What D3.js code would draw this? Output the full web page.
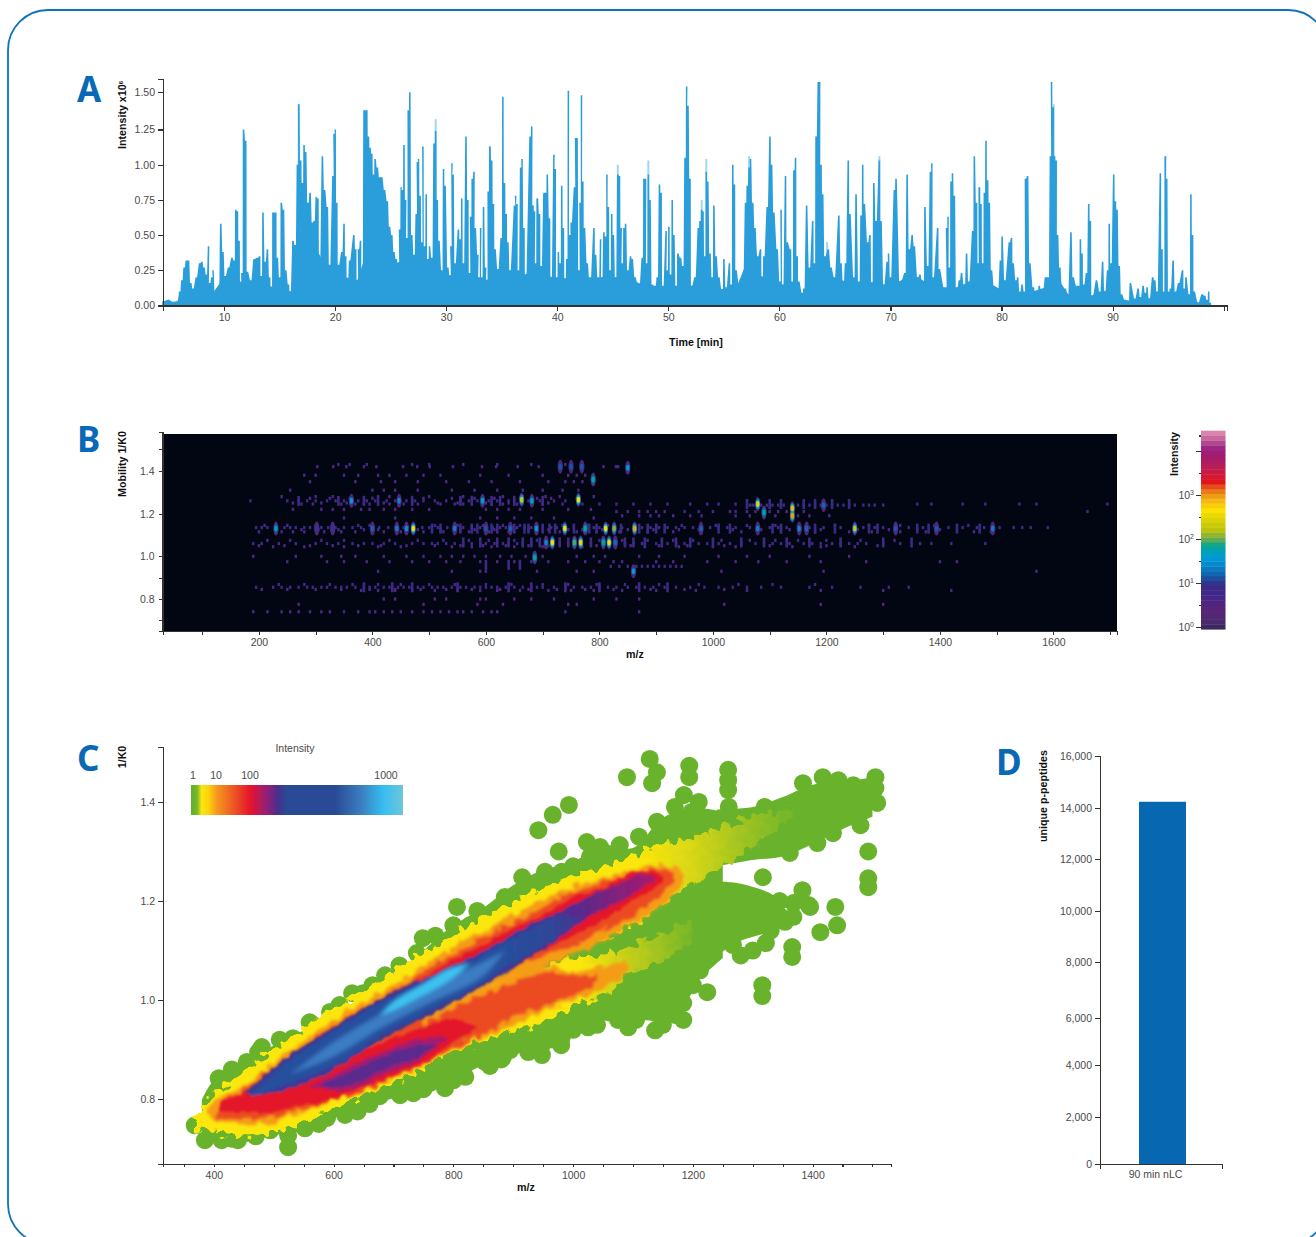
<!DOCTYPE html>
<html>
<head>
<meta charset="utf-8">
<script src="https://cdn.jsdelivr.net/npm/d3@7"></script>
<style>
  html, body { margin: 0; background: #fff; overflow: hidden; }
  text { font-family: "Liberation Sans", sans-serif; }
  .tick text { font-size: 10.5px; fill: #4a4a4a; }
  .axis path, .axis line { stroke: #333; stroke-width: 1.1; shape-rendering: crispEdges; }
  .title { font-size: 10.7px; font-weight: bold; fill: #111; }
  .letter { font-family: "Noto Sans", sans-serif; font-size: 35px; font-weight: bold; fill: #0a69b4; }
</style>
</head>
<body>
<div class="canvas"></div>
<script>
// panel A: total ion chromatogram as [minute, intensity x10^6]
const chromatogram = [
  [4.5,.03],[5,.04],[5.5,.02],[5.8,.03],[6,.1],[6.2,.18],[6.4,.27],[6.6,.32],[6.8,.32],[7,.16],[7.2,.12],[7.5,.2],[7.8,.3],[8,.31],[8.2,.27],[8.4,.22],[8.6,.42],[8.7,.16],[8.9,.2],[9,.25],[9.2,.1],[9.5,.1],[9.7,.58],[9.9,.38],[10.1,.21],[10.4,.27],[10.7,.34],[10.9,.32],[11.05,.68],[11.2,.67],[11.35,.46],[11.5,.1],[11.6,.23],[11.75,1.25],[11.95,1.17],[12.1,.24],[12.4,.18],[12.7,.33],[13,.34],[13.2,.35],[13.35,.21],[13.5,.66],[13.7,.31],[13.9,.4],[14.1,.2],[14.25,.13],[14.4,.66],[14.65,.66],[14.8,.34],[15,.2],[15.15,.73],[15.35,.68],[15.55,.25],[15.8,.15],[15.95,.1],[16.2,.46],[16.4,.43],[16.6,1.0],[16.72,1.42],[16.9,1.03],[17.05,.87],[17.2,1.14],[17.35,1.09],[17.55,.73],[17.75,.8],[17.95,.59],[18.1,.6],[18.3,.77],[18.45,.76],[18.6,.34],[18.85,1.06],[19.05,.82],[19.3,.7],[19.5,.29],[19.8,.92],[19.9,1.22],[20,1.25],[20.15,.73],[20.3,.29],[20.6,.38],[20.8,.58],[20.95,.35],[21.1,.15],[21.3,.32],[21.68,.5],[21.85,.4],[22,.17],[22.1,.4],[22.28,.46],[22.42,.25],[22.6,1.38],[22.85,1.38],[23,1.2],[23.15,1.12],[23.3,1.08],[23.45,.93],[23.6,1.04],[23.8,.98],[24,.91],[24.2,.91],[24.45,.82],[24.7,.74],[24.9,.56],[25.1,.5],[25.3,.38],[25.5,.33],[25.7,.25],[25.8,.54],[25.95,.84],[26.05,.82],[26.2,1.14],[26.35,.75],[26.45,.48],[26.58,1.38],[26.72,1.5],[26.9,.5],[27.1,.36],[27.3,.65],[27.4,1.02],[27.5,1.04],[27.65,.78],[27.8,.45],[27.9,1.13],[28.05,.42],[28.2,.79],[28.35,.33],[28.5,.42],[28.7,.34],[28.9,1.15],[29.05,1.24],[29.2,.75],[29.35,.46],[29.6,.25],[29.76,.97],[29.9,.85],[30.15,.27],[30.35,.2],[30.42,.42],[30.52,1.01],[30.62,.93],[30.8,.3],[31.1,.54],[31.25,.47],[31.4,.76],[31.55,.3],[31.78,1.2],[31.95,.75],[32.1,.23],[32.2,.63],[32.34,.9],[32.5,.95],[32.62,.55],[32.85,.36],[32.95,.2],[33.1,.55],[33.2,.2],[33.36,.7],[33.55,.27],[33.65,.17],[33.78,.81],[33.93,1.13],[34.1,1.03],[34.25,.72],[34.4,.4],[34.65,.26],[34.95,.48],[35.1,1.47],[35.25,.87],[35.4,.65],[35.55,.45],[35.75,.25],
  [36.15,.71],[36.25,.78],[36.37,.72],[36.5,.25],[36.7,.98],[36.82,1.04],[37,.55],[37.15,.18],[37.55,1.2],[37.7,1.27],[37.82,.71],[37.95,.67],[38.05,.3],[38.2,.76],[38.4,.65],[38.55,.28],[38.8,.8],[38.95,.8],[39.1,.93],[39.3,.62],[39.45,.2],[39.7,1.07],[39.82,.97],[39.95,.2],[40.1,.38],[40.25,.3],[40.4,.85],[40.55,.55],[40.7,.17],[40.85,.33],[41,1.51],[41.12,.5],[41.25,.59],[41.55,.84],[41.65,1.19],[41.78,1.19],[41.95,.25],[42.05,.73],[42.18,1.48],[42.3,.88],[42.45,.55],[42.7,.3],[42.95,.15],[43.3,.55],[43.45,.36],[43.7,.13],[43.9,.47],[44,.2],[44.2,.52],[44.35,.49],[44.47,.93],[44.6,.7],[44.75,.25],[44.9,.65],[45.05,.5],[45.25,.2],[45.45,.93],[45.6,.92],[45.75,.55],[45.85,.3],[46,.55],[46.15,.58],[46.35,.25],[46.6,.35],[46.75,.33],[47,.2],[47.35,.12],[47.65,.34],[47.8,.9],[47.95,.9],[48.05,.3],[48.2,.93],[48.35,.75],[48.55,.15],[48.8,.13],[49,.2],[49.2,.86],[49.35,.8],[49.5,.12],[49.8,.53],[49.9,.25],[50.05,.56],[50.2,.22],[50.35,.75],[50.5,.5],[50.7,.13],[50.85,.37],[51.1,.34],[51.3,.28],[51.5,1.05],[51.65,1.54],[51.77,1.41],[51.95,.9],[52.1,.14],[52.4,.2],[52.7,.55],[52.85,.6],[53,.68],[53.12,.67],[53.28,.35],[53.42,.95],[53.55,.88],[53.75,.37],[53.95,.2],[54.1,.71],[54.3,.35],[54.55,.2],[54.85,.1],[55,.33],[55.2,.13],[55.5,.3],[55.65,.15],[55.8,1.0],[55.95,.86],[56.1,.25],[56.45,.09],[56.7,.15],[56.95,.73],[57.1,.85],[57.27,.98],[57.4,1.04],[57.6,.73],[57.8,.55],[58.05,.35],[58.3,.4],[58.45,.17],[58.6,.35],[58.9,.7],[59.15,1.2],[59.3,1.0],[59.5,.66],[59.8,.4],[60.05,.17],[60.15,.68],[60.3,.15],[60.55,.92],[60.7,.45],[61,.4],[61.15,.17],[61.3,.96],[61.45,1.05],[61.6,.35],[61.75,.17],[62.05,.09],[62.2,.12],[62.45,.71],[62.7,.27],[63,.6],[63.15,.3],[63.3,1.2],[63.5,1.57],[63.62,1.57],[63.75,1.0],[63.9,.79],[64.1,.35],[64.4,.4],[64.65,.27],[64.95,.2],[65.35,.64],[65.55,.3],[65.75,.17],[65.95,.3],[66.2,1.03],[66.35,.65],[66.7,.2],[66.9,.79],[67.15,.12],[67.35,.64],[67.5,1.0],[67.65,.72],[67.95,.45],[68.15,.5],[68.32,.15],[68.5,.87],[68.7,.6],[69,1.03],[69.15,.6],[69.4,.15],[69.7,.31],[69.82,.37],[70,.2],[70.35,.82],[70.5,.9],[70.85,.15],[71.3,.23],[71.5,.93],[71.7,.4],[71.95,.5],[72.15,.42],[72.45,.2],[72.65,.22],[72.95,.12],[73.1,.7],[73.35,.28],[73.6,.95],[73.72,1.01],[73.85,.2],[74.25,.55],[74.4,.26],[75,.05],[75.05,.55],[75.18,.63],[75.3,.27],[75.45,.88],[75.58,.94],[75.75,.78],[75.95,.1],[76.2,.18],[76.4,.23],[76.65,.12],[76.85,.37],[77.05,.17],[77.4,.53],[77.55,1.06],[77.75,.73],[77.9,.3],[78,.84],[78.15,.72],[78.3,.3],[78.45,.8],[78.6,1.17],[78.75,.89],[78.9,.73],[79.1,.25],[79.35,.12],[79.65,.1],[79.9,.32],[80.05,.49],[80.3,.18],[80.7,.45],[80.9,.48],[81.05,.3],[81.3,.18],[81.45,.2],[81.65,.1],[81.85,.15],[82.05,.1],[82.15,.9],[82.35,.92],[82.55,.3],[82.85,.13],[83.15,.05],[83.4,.14],[83.65,.05],[83.95,.2],[84.2,.2],[84.4,1.06],[84.5,1.57],[84.65,1.4],[84.78,1.06],[84.92,1.03],[85.05,.5],[85.25,.27],[85.5,.08],[85.75,.12],[85.95,.07],[86.25,.52],[86.45,.2],[86.75,.14],[86.95,.14],[87.1,.47],[87.25,.37],[87.4,.15],[87.65,.23],[87.85,.72],[88,.6],[88.15,.05],[88.55,.18],[88.85,.1],[89.1,.31],[89.3,.1],[89.55,.25],[89.7,.58],[89.85,.3],[90.1,.93],[90.25,.74],[90.4,.68],[90.6,.28],[90.8,.08],[91.1,.04],[91.4,.02],[91.6,.16],[92,.05],[92.3,.12],[92.5,.06],[92.75,.14],[92.95,.09],[93.1,.13],[93.3,.05],[93.6,.2],[93.8,.18],[94,.1],[94.3,.94],[94.45,.4],[94.6,.1],[94.75,1.06],[94.87,.9],[95.05,.1],[95.2,.12],[95.45,.32],[95.65,.1],[95.95,.16],[96.3,.25],[96.45,.12],[96.6,.2],[96.9,.08],[97.05,.79],[97.2,.5],[97.35,.1],[97.7,.02],[98.05,.08],[98.3,.07],[98.5,.04],[98.65,.1],[98.8,.02]
];
// continuous floor under the spikes
const chromatogramFloor = [[4.5,.02],[5.8,.03],[6,.08],[7,.11],[8,.14],[9,.09],[10,.2],[12,.16],[14,.14],[16,.1],[16.4,.3],[17,.48],[18,.45],[19,.3],[20,.22],[22,.18],[22.5,.3],[25,.3],[27,.32],[30,.22],[33,.18],[36,.2],[38,.24],[40,.19],[42,.2],[44,.2],[46,.2],[48,.14],[50,.14],[52,.14],[54,.13],[56,.1],[57,.3],[58,.22],[60,.16],[62,.08],[64,.22],[66,.17],[68,.17],[70,.14],[71.5,.2],[72,.22],[74,.13],[76,.13],[78,.2],[80,.11],[82,.08],[84,.13],[85,.2],[86,.08],[88,.07],[90,.12],[91,.04],[92,.03],[94,.06],[96,.06],[97,.05],[98,.01],[98.85,0]];
// pale tips standing above the main trace
const paleTips = [[16.72,1.42],[29.05,1.32],[33.93,1.13],[45.45,1.0],[48.2,1.03],[53.42,1.04],[57.27,1.06],[69,1.06],[63.35,1.2],[78,.84],[84.7,1.42],[94.75,1.06],[64.3,.45],[53,.75],[38.2,.76]];
const timeTicks = d3.range(10, 101, 10);
const intensityTicks = [0, .25, .5, .75, 1, 1.25, 1.5];

// panel B: mobility map, faint specks per row and the bright features
const speckRowK0 = [1.43,1.42,1.38,1.35,1.31,1.28,1.272,1.26,1.25,1.245,1.24,1.22,1.21,1.19,1.18,1.145,1.135,1.125,1.115,1.075,1.06,1.05,1.045,1.0,.975,.953,.93,.868,.855,.845,.84,.80,.775,.74];
const speckRowI = [5,4,4,4,4,4,4,6,4,5,8,4,4,4,4,5,7,5,4,5,7,4,4,4,4,7,4,5,6,4,4,3,3,4];
const speckRowMz = [
  [340,360,390,470,500,560,620,680,740],
  [303,331,354,385,407,454,479,501,542,593,618,656,693,731,750,769,807,829,833],
  [280,300,350,375,410,430,460,490,520,590,640,700,745,760,775],
  [290,370,415,440,480,530,570,610,660,710,740,755,770],
  [255,400,420,440,480,540,580,620,665,700,735,763],
  [240,300,330,410,430,500,560,630,665,705,730,790],
  [290,325,360,400,445,490,540,580,615,660,690,715,760],
  [185,250,270,285,300,320,335,350,375,390,405,425,440,460,475,490,510,530,555,570,585,605,620,640,650,675,695,720,740],
  [260,310,355,385,420,470,515,550,600,640,680,710],
  [275,295,345,370,395,430,455,480,520,545,560,610,630,655,700,735,770,800,830,860,890,920,960,990,1010,1040,1360,1385,1440,1480,1540,1570,1695],
  [1065,1070,1075,1085,1095,1105,1115,1125,1150,1160,1170,1180,1190,1200,1210,1220,1230,1240,1250,1265,1275,1285,1300],
  [260,310,330,350,380,395,420,440,470,500,600,620,640,660,700,745,785],
  [830,850,870,885,900,915,950,975,1000,1030,1040,1060,1075,1100,1115,1130,1160,1660],
  [840,870,890,905,930,960,980,1040,1065,1110,1150,1170,1205],
  [350,440,590,620,650,680,720,790],
  [210,250,300,330,375,395,470,510,550,595,630,660,690,735,780,815,860,900,945,1005,1060,1110,1150,1215,1275,1330,1390,1450],
  [195,205,215,245,255,265,280,290,310,322,335,350,365,380,412,428,455,488,500,515,532,560,575,590,600,612,625,635,655,668,680,700,715,725,755,790,800,825,840,875,890,905,920,935,950,965,995,1010,1025,1040,1065,1100,1115,1130,1170,1195,1225,1265,1285,1300,1345,1370,1415,1440,1465,1478,1505,1530,1545,1560,1590],
  [230,275,305,340,385,410,445,480,520,555,580,615,650,675,710,745,770,805,850,895,940,975,1035,1085,1135,1190,1255,1310,1360,1400,1495],
  [200,240,260,280,315,345,370,420,450,490,525,570,605,640,690,730,760,795,835,885,930,980,1050,1120,1180,1240,1280,1330,1375,1460,1490],
  [215,255,310,350,430,480,525,570,605,650,690,720,765,800,840,885,930,965,1015,1065,1110,1150,1200,1260,1320],
  [190,205,235,265,300,320,340,365,385,400,420,440,470,490,505,515,530,545,560,575,590,600,615,630,640,655,665,680,695,730,745,785,830,845,860,875,900,920,935,950,975,990,1010,1030,1050,1075,1090,1105,1120,1135,1160,1175,1190,1210,1225,1240,1255,1270,1300,1330,1365,1385,1420,1480],
  [200,245,290,330,375,415,460,510,555,595,635,675,710,755,795,855,905,955,1020,1100,1200,1290],
  [225,280,350,410,450,540,575,610,650,700,770,880,940,1000,1040,1140,1190,1250],
  [190,265,310,345,370,420,460,490,520,540,560,580,600,625,645,670,700,760,790,810,870,905,950,1010,1060,1100,1170,1240],
  [250,320,350,390,430,470,500,530,555,590,620,650,680,710,745,775,800,825,840,900,930,990,1040,1080,1130,1190,1270,1400,1430],
  [820,835,850,865,875,885,895,905,915,925,935,945],
  [410,540,590,600,690,760,790,1015,1195,1570],
  [235,280,325,365,410,450,500,545,600,645,700,745,795,845,905,975,1045,1105,1180],
  [195,225,240,255,270,285,295,310,320,335,345,355,370,385,395,405,420,430,445,455,465,480,490,505,515,525,540,555,565,580,590,600,610,620,635,650,665,680,690,700,720,740,755,770,785,800,815,830,850,865,880,895,915,935,960,985,1010,1035,1060,1085,1120,1170,1210,1260,1310,1345],
  [205,250,300,345,395,440,485,530,575,625,675,725,775,825,890,950,1020],
  [380,410,440,470,510,550,590,620,660,710,750,790,840,900,970,1060,1190,1300,1420],
  [420,440,510,530,590,600,650,680,720,790,830,870],
  [270,490,585,630,745,760,1020,1190,1300],
  [190,215,240,255,270,290,310,325,350,375,395,405,420,435,450,470,490,505,520,535,550,560,575,595,610,620,740,870]
];
// taller dim streaks in the crowded bands
const streakRowK0 = [1.26,1.245,1.13,1.065,.855,.96];
const streakRowI = [8,9,9,8,6,6];
const streakRowMz = [
  [270,340,385,410,470,555,575,610,625,650,700],
  [1060,1100,1120,1160,1180,1210,1240],
  [505,520,555,575,585,610,620,650,668,675,700,712,722,755,782,795,838,870,885,900,915,1010,1030,1105,1120,1165,1180,1215,1275,1290,1360,1380,1430,1470],
  [560,590,620,640,665,680,695,730,745,785,845,860,880,910,935,960,1000,1050,1090,1130,1170,1225,1300,1350],
  [385,435,470,550,640,680,740,800,870,920],
  [600,640,660]
];
const spotMz = [850,731,750,769,789,363,447,594,663,681,763,1079,1090,1140,1140,1195,230,302,330,400,443,460,472,545,600,643,689,739,775,811,826,862,979,1079,1152,1165,1250,1322,1394,1493,706,717,756,767,807,817,828,686,860];
const spotK0 = [1.415,1.42,1.42,1.42,1.36,1.26,1.26,1.26,1.265,1.26,1.265,1.245,1.205,1.225,1.19,1.24,1.13,1.13,1.13,1.13,1.13,1.13,1.13,1.13,1.13,1.13,1.13,1.13,1.13,1.13,1.13,1.13,1.13,1.13,1.13,1.13,1.13,1.13,1.13,1.13,1.065,1.065,1.065,1.065,1.065,1.065,1.065,.995,.93];
const spotI = [40,14,14,14,70,40,25,50,200,50,500,300,70,800,1000,16,50,10,10,16,22,30,400,22,14,16,40,400,70,500,120,900,16,22,25,16,200,14,14,22,25,500,90,600,70,500,18,70,40];
const bMzTicks = d3.range(100, 1701, 100);
const bK0Labels = [.8, 1.0, 1.2, 1.4];
const bK0Minor = [.7, .9, 1.5];
// colour bar, log10 intensity to colour from the top of the bar down
const barLog = [4.43,4.3,4.2,4.05,3.85,3.6,3.3,3.15,3.0,2.85,2.65,2.4,2.2,2.0,1.85,1.7,1.55,1.35,1.15,.95,.7,.4,.15,0];
const barColors = ['#dc8ab0','#c86a9e','#b04c90','#9a1f80','#a51c6a','#c01c50','#e2141c','#e8641a','#f0961a','#f5bd10','#fbe100','#d7cf08','#b9c20e','#6aab4c','#00a596','#009fc0','#0098d8','#0a7fc4','#1658a6','#3a2a84','#43278a','#5a2478','#4f2a6e','#3a2a5e'];
const barDecades = [0, 1, 2, 3, 4];
const barHalves = [.5, 1.5, 2.5, 3.5, 4.35];

// panel C: density contours as [m/z, upper 1/K0, lower 1/K0]
const greenBody = [[380,.798,.713],[400,.838,.717],[450,.869,.713],[500,.909,.727],[550,.939,.737],[600,.976,.762],[650,1.004,.782],[700,1.05,.802],[750,1.10,.808],[800,1.151,.838],[850,1.186,.869],[900,1.232,.889],[950,1.263,.909],[1000,1.279,.939],[1050,1.313,.96],[1100,1.307,.96],[1150,1.368,.964],[1200,1.388,1.03],[1250,1.38,1.085]];
const greenTail = [[1240,1.385,1.27],[1300,1.39,1.283],[1350,1.41,1.29],[1400,1.435,1.315],[1450,1.44,1.345],[1500,1.45,1.37]];
const greenMass = [[1240,1.24,1.09],[1280,1.235,1.12],[1330,1.215,1.14],[1345,1.2,1.16]];
const yellowUpper = [[370,.765,.74],[400,.812,.74],[450,.855,.74],[500,.899,.75],[550,.943,.78],[600,.984,.82],[650,1.02,.86],[700,1.057,.90],[750,1.097,.94],[800,1.131,.99],[850,1.166,1.03],[900,1.198,1.065],[950,1.226,1.08],[1000,1.252,1.1],[1050,1.269,1.125],[1100,1.293,1.15],[1150,1.313,1.195],[1200,1.33,1.235],[1250,1.35,1.27],[1300,1.37,1.31],[1370,1.39,1.37]];
const yellowLower = [[400,.80,.731],[450,.80,.727],[500,.82,.733],[550,.85,.754],[600,.88,.782],[650,.92,.808],[700,.96,.834],[750,1.0,.863],[800,1.03,.895],[850,1.05,.919],[900,1.065,.939],[950,1.07,.956],[1000,1.085,.99],[1050,1.09,1.01],[1100,1.11,1.055],[1150,1.135,1.08],[1200,1.16,1.12]];
const orangeUpper = [[390,.775,.76],[400,.794,.758],[450,.828,.747],[500,.873,.754],[550,.919,.774],[600,.96,.798],[650,.996,.826],[700,1.032,.879],[750,1.07,.939],[800,1.107,.98],[850,1.141,1.02],[900,1.172,1.05],[950,1.202,1.07],[1000,1.23,1.09],[1050,1.246,1.121],[1100,1.263,1.152],[1150,1.273,1.192],[1180,1.263,1.232]];
const orangeLower = [[650,.90,.826],[700,.919,.842],[750,.955,.869],[800,.994,.899],[850,1.02,.925],[900,1.05,.949],[950,1.07,.976],[1000,1.057,1.0],[1050,1.07,1.024],[1090,1.08,1.05]];
const deepOrangeUpper = [[405,.79,.765],[450,.82,.76],[500,.864,.764],[550,.907,.78],[600,.947,.80],[650,.984,.82],[700,1.019,.86],[750,1.058,.96],[800,1.094,1.0],[850,1.126,1.035],[900,1.158,1.066],[950,1.187,1.086],[1000,1.219,1.11],[1050,1.236,1.14],[1100,1.254,1.17],[1150,1.266,1.215],[1170,1.25,1.24]];
const deepOrangeLower = [[550,.86,.78],[600,.89,.80],[650,.91,.815],[700,.935,.845],[750,.955,.87],[800,.985,.903],[850,1.01,.93],[900,1.035,.965],[950,1.055,.985],[1000,1.05,1.01],[1040,1.05,1.03]];
const redUpper = [[410,.795,.775],[450,.812,.774],[500,.855,.774],[550,.895,.80],[600,.935,.879],[650,.972,.909],[700,1.006,.945],[750,1.046,.98],[800,1.081,1.016],[850,1.111,1.05],[900,1.145,1.081],[950,1.172,1.101],[1000,1.208,1.131],[1050,1.226,1.162],[1100,1.256,1.202],[1130,1.259,1.222],[1150,1.25,1.24]];
const redLower = [[450,.81,.78],[500,.83,.78],[550,.848,.788],[600,.875,.802],[650,.899,.824],[700,.923,.848],[750,.945,.875],[800,.962,.915],[840,.945,.945]];
const magentaUpper = [[452,.81,.81],[515,.878,.817],[599,.943,.86],[682,1.005,.922],[766,1.051,.973],[849,1.098,1.028],[933,1.155,1.09],[978,1.18,1.125],[1030,1.212,1.17],[1080,1.238,1.2],[1120,1.255,1.23],[1140,1.245,1.245]];
const magentaLower = [[560,.825,.825],[627,.865,.818],[682,.895,.849],[739,.92,.875],[790,.925,.925]];
const purpleLower = [[577,.825,.825],[627,.855,.828],[682,.885,.859],[739,.909,.885],[773,.91,.91]];
const blueRidge = [[460,.805,.805],[515,.868,.828],[599,.935,.868],[682,.996,.93],[766,1.042,.982],[849,1.09,1.036],[878,1.111,1.061],[933,1.145,1.097],[978,1.172,1.131],[1015,1.165,1.165]];
const lightBlueRidge = [[527,.85,.85],[599,.915,.885],[682,.975,.945],[766,1.032,.997],[849,1.077,1.047],[886,1.1,1.1]];
const cyanRidge = [[677,.97,.97],[702,1.0,.98],[744,1.03,1.006],[794,1.065,1.04],[828,1.075,1.075]];
// single green dots around the cloud
const greenDots = [
  [1090,1.45],[1128,1.487],[1140,1.46],[1132,1.438],[1194,1.473],[1194,1.45],[1259,1.465],[1259,1.444],[1259,1.424],[993,1.394],[966,1.374],[942,1.343],[976,1.3],[1185,1.414],[1198,1.38],[1023,1.319],[1045,1.309],[1078,1.313],[1028,1.289],[915,1.248],[953,1.259],[981,1.259],[886,1.208],[1384,1.438],[1417,1.45],[1443,1.444],[1468,1.434],[1505,1.45],[1505,1.428],[1508,1.398],[1480,1.353],[1493,1.3],[1493,1.246],[1493,1.228],[1413,1.137],[1438,1.188],[1441,1.151],[1383,1.222],[1393,1.192],[1368,1.196],[1354,1.158],[1366,1.107],[1366,1.087],[1322,1.115],[1224,1.016],[1316,1.03],[1316,1.008],[1267,1.111],[1242,1.115],[1317,1.196],[1317,1.248],[1362,1.297],[1408,1.317],[1434,1.337],[1137,.939],[1137,.974],[1184,.96],[1184,.994],[1187,1.04],[1092,.945],[1075,.96],[1025,.945],[980,.909],[948,.889],[920,.909],[891,.909],[883,.885],[1212,1.06],[1234,1.10],
  [408,.842],[455,.875],[474,.895],[514,.915],[532,.923],[564,.951],[594,.976],[631,1.014],[649,1.014],[686,1.05],[739,1.095],[749,1.125],[800,1.151],[806,1.188],[828,1.151],[861,1.172],
  [368,.747],[385,.717],[413,.717],[440,.717],[494,.737],[524,.703],[524,.727],[552,.741],[589,.762],[619,.768],[677,.806],[711,.808],[733,.812],[800,.838],[786,.822],[861,.867],[853,.875],[946,.903],[981,.925],[895,.899],[1023,.964],
  [1345,1.2],[1345,1.17],[1330,1.14],[1300,1.1],[1280,1.09],[1368,1.168],[1396,1.188],[1137,.99],[1137,1.02],[1184,1.02],[1150,.95],[1170,.97],[1160,1.0],[1200,1.03],[1105,.96],[1060,.975],[1000,.94],[960,.92],[1050,1.29],[1000,1.27],[1110,1.33],[1140,1.36],[1170,1.39],[1210,1.40],[1260,1.39],[1320,1.39],
  [430,.86],[480,.905],[510,.92],[560,.955],[610,.99],[665,1.03],[710,1.07],[770,1.13],[840,1.18],[430,.72],[470,.725],[575,.75],[640,.775],[660,.79],[750,.82],[820,.845],[880,.88],[925,.895],[970,.92],[1040,.95]
];
const cMzTicks = d3.range(350, 1501, 50);
const cK0Ticks = [.8, 1.0, 1.2, 1.4];
const legendLabels = [1, 10, 100, 1000];
const legendOffsets = [0, .03, .05, .085, .12, .28, .35, .41, .45, .68, .8, .905, 1];
const legendColors = ['#5fae2c','#7ab82a','#fbe80a','#fdcf0c','#f49a1c','#e6142c','#9b1f74','#4a2e8c','#2a4a96','#2a4a96','#3b7cc0','#35bdf0','#70c5dc'];

// panel D
const dCategories = ['90 min nLC'];
const dValues = [14240];
const dTicks = [0, 2000, 4000, 6000, 8000, 10000, 12000, 14000, 16000];

const svg = d3.select('.canvas').append('svg').attr('width', 1316).attr('height', 1237).style('display', 'block');
const defs = svg.append('defs');

// rounded frame, runs off the right and the bottom
svg.append('rect').attr('x', 8).attr('y', 10).attr('width', 1320).attr('height', 1234).attr('rx', 40)
  .attr('fill', 'none').attr('stroke', '#0e72b8').attr('stroke-width', 1.8);

[['A', 77, 102], ['B', 77, 452], ['C', 77, 771], ['D', 996, 775]].forEach(d => {
  svg.append('text').attr('class', 'letter').attr('x', d[1]).attr('y', d[2]).text(d[0]);
});

function vLabel(txt, x, y) {
  svg.append('text').attr('class', 'title').attr('transform', `translate(${x},${y}) rotate(-90)`)
    .attr('text-anchor', 'middle').text(txt);
}
function hLabel(txt, x, y) {
  svg.append('text').attr('class', 'title').attr('x', x).attr('y', y).attr('text-anchor', 'middle').text(txt);
}

// ---- panel A
const xA = d3.scaleLinear().domain([4.5, 100.3]).range([163, 1227]);
const yA = d3.scaleLinear().domain([0, 1.25, 1.5, 1.59]).range([305.5, 129.5, 92.3, 79]);
const stepPoints = chromatogram.flatMap(d => [[d[0] - .07, d[1]], [d[0] + .07, d[1]]]);

svg.append('g').selectAll('rect').data(paleTips).join('rect')
  .attr('x', d => xA(d[0]) - 1).attr('width', 2)
  .attr('y', d => yA(d[1])).attr('height', d => yA(0) - yA(d[1]))
  .attr('fill', '#9fd6f3');
svg.append('path').datum(chromatogramFloor)
  .attr('d', d3.area().x(d => xA(d[0])).y0(yA(0)).y1(d => yA(d[1])))
  .attr('fill', '#2a9ddb');
svg.append('path').datum(stepPoints)
  .attr('d', d3.area().x(d => xA(d[0])).y0(yA(0)).y1(d => yA(d[1])))
  .attr('fill', '#2a9ddb');

svg.append('g').attr('class', 'axis').attr('transform', 'translate(0,305.5)')
  .call(d3.axisBottom(xA).tickValues(timeTicks).tickSizeOuter(0).tickSize(5).tickPadding(3)
    .tickFormat(d => d === 100 ? '' : d));
svg.append('g').attr('class', 'axis').attr('transform', 'translate(163,0)')
  .call(d3.axisLeft(yA).tickValues(intensityTicks).tickSizeOuter(0).tickSize(5).tickPadding(3).tickFormat(d3.format('.2f')));
const aTitle = svg.append('text').attr('class', 'title').attr('transform', 'translate(126,115) rotate(-90)').attr('text-anchor', 'middle').text('Intensity x10');
aTitle.append('tspan').attr('font-size', 6).attr('dy', -3).text('6');
hLabel('Time [min]', 696, 346);

// ---- panel B
const xB = d3.scaleLinear().domain([31, 1712]).range([163, 1117]);
const yB = d3.scaleLinear().domain([.65, 1.4, 1.58]).range([631, 471, 432]);
const heat = d3.scaleLinear().domain(barLog.slice().reverse()).range(barColors.slice().reverse()).clamp(true);
const heatI = i => heat(Math.log10(i));

defs.append('filter').attr('id', 'soft').append('feGaussianBlur').attr('stdDeviation', .6);
svg.append('rect').attr('x', xB(31)).attr('y', 434).attr('width', xB(1712) - xB(31)).attr('height', 197).attr('fill', '#020612');

const specks = speckRowMz.flatMap((row, i) => row.map(mz => ({ mz, k0: speckRowK0[i], i: speckRowI[i] })));
svg.append('g').attr('filter', 'url(#soft)').selectAll('rect').data(specks).join('rect')
  .attr('x', d => xB(d.mz) - 1.2).attr('y', d => yB(d.k0) - 1.6)
  .attr('width', 2.4).attr('height', 3.2)
  .attr('fill', d => heatI(d.i));

const streaks = streakRowMz.flatMap((row, i) => row.map(mz => ({ mz, k0: streakRowK0[i], i: streakRowI[i] })));
svg.append('g').attr('filter', 'url(#soft)').selectAll('rect').data(streaks).join('rect')
  .attr('x', d => xB(d.mz) - 1.3).attr('y', d => yB(d.k0) - 5)
  .attr('width', 2.6).attr('height', 10)
  .attr('fill', d => heatI(d.i));

// each bright feature is a small stack, dim and tall outside, hot and short inside
const spots = spotMz.map((mz, i) => ({ mz, k0: spotK0[i], i: spotI[i] }));
const spotG = svg.append('g').attr('filter', 'url(#soft)');
[[7, 2.6, .25], [5, 2.2, .62], [3, 1.7, 1]].forEach(s => {
  spotG.append('g').selectAll('ellipse').data(spots).join('ellipse')
    .attr('cx', d => xB(d.mz)).attr('cy', d => yB(d.k0))
    .attr('rx', s[1]).attr('ry', s[0])
    .attr('fill', d => heatI(Math.pow(d.i, s[2])));
});

svg.append('g').attr('class', 'axis').attr('transform', 'translate(0,631)')
  .call(d3.axisBottom(xB).tickValues(bMzTicks).tickSizeOuter(0).tickSize(4).tickPadding(4)
    .tickFormat(d => d % 200 === 0 ? d : ''));
svg.append('g').attr('class', 'axis').attr('transform', 'translate(162.5,0)')
  .call(d3.axisLeft(yB).tickValues(bK0Labels.concat(bK0Minor)).tickSizeOuter(0).tickSize(4).tickPadding(4)
    .tickFormat(d => bK0Labels.includes(d) ? d3.format('.1f')(d) : ''));
vLabel('Mobility 1/K0', 126, 464);
hLabel('m/z', 635, 658);

// colour bar
const yBar = d3.scaleLinear().domain([0, 4.43]).range([627, 432]);
const barSteps = d3.range(-.05, 4.43, .11);
svg.append('g').selectAll('rect').data(barSteps).join('rect')
  .attr('x', 1201).attr('width', 24.5)
  .attr('y', d => yBar(d + .11)).attr('height', d => yBar(d) - yBar(d + .11) + .4)
  .attr('fill', d => heat(d + .055));
svg.append('g').attr('class', 'axis').attr('transform', 'translate(1201,0)')
  .call(d3.axisLeft(yBar).tickValues(barHalves).tickSize(2.5).tickFormat(''))
  .select('.domain').remove();
const barAxis = svg.append('g').attr('class', 'axis').attr('transform', 'translate(1201,0)')
  .call(d3.axisLeft(yBar).tickValues(barDecades).tickSize(5).tickPadding(2).tickFormat(''));
barAxis.select('.domain').remove();
barAxis.selectAll('.tick').filter(d => d < 4).select('text').each(function (d) {
  const t = d3.select(this);
  t.append('tspan').text('10');
  t.append('tspan').attr('font-size', 7).attr('dy', -3.5).text(d);
});
vLabel('Intensity', 1178, 454);

// ---- panel C
const xC = d3.scaleLinear().domain([315, 1531]).range([163, 891]);
const yC = d3.scaleLinear().domain([.669, 1.511]).range([1164, 747]);
const band = d3.area().x(d => xC(d[0])).y0(d => yC(d[2])).y1(d => yC(d[1])).curve(d3.curveCatmullRom);

// jagged flame edges of the contours, sharper outside, softer towards the core
function flameFilter(id, freq, scale, blur) {
  const f = defs.append('filter').attr('id', id)
    .attr('filterUnits', 'userSpaceOnUse').attr('x', 150).attr('y', 740).attr('width', 760).attr('height', 430);
  f.append('feTurbulence').attr('type', 'fractalNoise').attr('baseFrequency', freq).attr('numOctaves', 1).attr('seed', 4).attr('result', 'n');
  f.append('feDisplacementMap').attr('in', 'SourceGraphic').attr('in2', 'n').attr('scale', scale)
    .attr('xChannelSelector', 'R').attr('yChannelSelector', 'G').attr('result', 'd');
  f.append('feGaussianBlur').attr('in', 'd').attr('stdDeviation', blur);
}
flameFilter('flameStrong', .14, 20, .5);
flameFilter('flameMid', .14, 14, 1.5);
flameFilter('flameSoft', .14, 6, 1.3);
const smooth = defs.append('filter').attr('id', 'smooth')
  .attr('filterUnits', 'userSpaceOnUse').attr('x', 150).attr('y', 740).attr('width', 760).attr('height', 430);
smooth.append('feGaussianBlur').attr('stdDeviation', 2.2);

function fade(id, x1, x2, stops) {
  const g = defs.append('linearGradient').attr('id', id).attr('gradientUnits', 'userSpaceOnUse')
    .attr('x1', x1).attr('x2', x2).attr('y1', 0).attr('y2', 0);
  stops.forEach(s => g.append('stop').attr('offset', s[0]).attr('stop-color', s[1]));
}
const cGreen = '#69b32c';
fade('ridgeFade', 520, 650, [[0, '#3a3a94'], [.45, '#5a2a8c'], [1, '#a31a70']]);
fade('blueFade', 500, 585, [[0, '#26509e'], [.6, '#2f4698'], [1, '#4a3390']]);
fade('yellowUp', 640, 800, [[0, '#fbe60a'], [.3, '#dcd816'], [.65, '#9ec322'], [1, cGreen]]);
fade('yellowLow', 580, 700, [[0, '#fbe60a'], [.4, '#c6cf18'], [1, cGreen]]);

const gC = svg.append('g');
gC.append('g').selectAll('circle').data(greenDots).join('circle')
  .attr('cx', d => xC(d[0])).attr('cy', d => yC(d[1])).attr('r', 9).attr('fill', cGreen);
gC.append('path').datum(greenBody).attr('d', band).attr('fill', cGreen);
gC.append('path').datum(greenTail).attr('d', band).attr('fill', cGreen);
gC.append('path').datum(greenMass).attr('d', band).attr('fill', cGreen);

const outer = gC.append('g').attr('filter', 'url(#flameStrong)');
outer.append('path').datum(yellowUpper).attr('d', band).attr('fill', 'url(#yellowUp)');
outer.append('path').datum(yellowLower).attr('d', band).attr('fill', 'url(#yellowLow)');
const hot = gC.append('g').attr('filter', 'url(#flameMid)');
[[orangeUpper, '#f59c14'], [orangeLower, '#f59c14'], [deepOrangeUpper, '#ec4c20'], [deepOrangeLower, '#ec4c20']].forEach(d => {
  hot.append('path').datum(d[0]).attr('d', band).attr('fill', d[1]);
});
const cold = gC.append('g').attr('filter', 'url(#flameSoft)');
[[redUpper, '#e3162a'], [redLower, '#e3162a'], [magentaUpper, 'url(#ridgeFade)'], [magentaLower, '#a31a70'], [purpleLower, '#5a2a8e'], [blueRidge, 'url(#blueFade)']].forEach(d => {
  cold.append('path').datum(d[0]).attr('d', band).attr('fill', d[1]);
});
const core = gC.append('g').attr('filter', 'url(#smooth)');
core.append('path').datum(lightBlueRidge).attr('d', band).attr('fill', '#3a7cc2');
core.append('path').datum(cyanRidge).attr('d', band).attr('fill', '#3cc2ef');

svg.append('g').attr('class', 'axis').attr('transform', 'translate(0,1164)')
  .call(d3.axisBottom(xC).tickValues(cMzTicks).tickSizeOuter(0).tickSize(3).tickPadding(5)
    .tickFormat(d => d % 200 === 0 ? d : ''));
svg.append('g').attr('class', 'axis').attr('transform', 'translate(163,0)')
  .call(d3.axisLeft(yC).tickValues(cK0Ticks).tickSizeOuter(0).tickSize(5).tickPadding(3).tickFormat(d3.format('.1f')));
vLabel('1/K0', 126, 757);
hLabel('m/z', 526, 1191);

// legend of panel C
const legendGrad = defs.append('linearGradient').attr('id', 'legendGrad');
legendOffsets.forEach((o, i) => legendGrad.append('stop').attr('offset', o).attr('stop-color', legendColors[i]));
svg.append('rect').attr('x', 191).attr('y', 785).attr('width', 212).attr('height', 30).attr('fill', 'url(#legendGrad)').attr('filter', 'url(#soft)');
const xLegend = d3.scaleLog().domain(legendLabels).range([193, 216, 250, 386]);
svg.append('g').selectAll('text').data(legendLabels).join('text')
  .attr('x', d => xLegend(d)).attr('y', 779).attr('text-anchor', 'middle')
  .attr('font-size', 10.5).attr('fill', '#4a4a4a').text(d => d);
svg.append('text').attr('x', 295).attr('y', 752).attr('text-anchor', 'middle')
  .attr('font-size', 10.5).attr('fill', '#4a4a4a').text('Intensity');

// ---- panel D
const xD = d3.scaleBand().domain(dCategories).range([1100, 1222]).paddingInner(.6).paddingOuter(.319).align(.52);
const yD = d3.scaleLinear().domain(dTicks).range([1164, 1117, 1065, 1018, 962, 911, 859, 808, 756]);
svg.append('g').selectAll('rect').data(dValues).join('rect')
  .attr('x', (d, i) => xD(dCategories[i])).attr('width', xD.bandwidth())
  .attr('y', d => yD(d)).attr('height', d => yD(0) - yD(d))
  .attr('fill', '#0767b1');
svg.append('g').attr('class', 'axis').attr('transform', 'translate(1100,0)')
  .call(d3.axisLeft(yD).tickValues(dTicks).tickSizeOuter(0).tickSize(5).tickPadding(3).tickFormat(d3.format(',')));
const dAxis = svg.append('g').attr('class', 'axis').attr('transform', 'translate(0,1164)')
  .call(d3.axisBottom(xD).tickSize(0).tickSizeOuter(5).tickPadding(7));
dAxis.selectAll('.tick text').attr('dx', -7);
vLabel('unique p-peptides', 1047, 796);
</script>
</body>
</html>
